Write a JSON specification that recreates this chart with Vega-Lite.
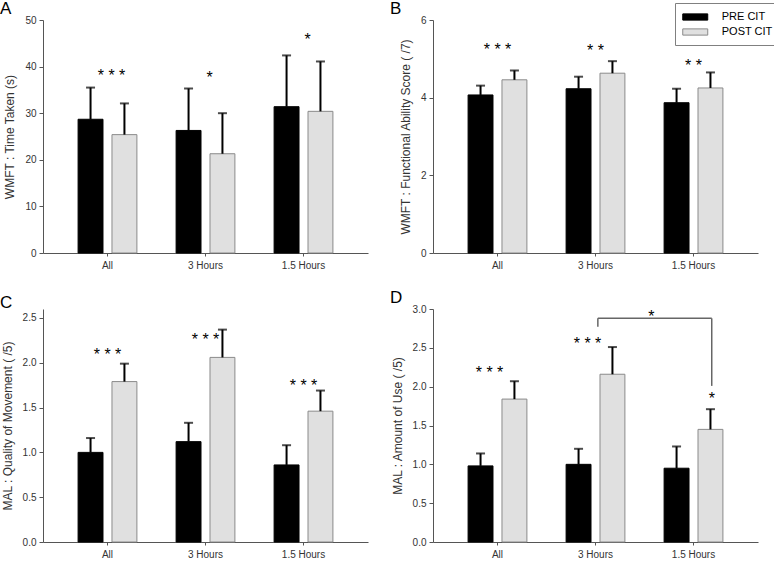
{
  "$schema": "https://vega.github.io/schema/vega-lite/v6.json",
  "padding": {"left": 0, "top": 0, "right": 0, "bottom": 0},
  "background": "#ffffff",
  "datasets": {
    "bars": [
      {"panel": "A", "cat": "All", "group": "PRE CIT", "mean": 28.7, "upper": 35.5},
      {"panel": "A", "cat": "All", "group": "POST CIT", "mean": 25.4, "upper": 32.1},
      {"panel": "A", "cat": "3 Hours", "group": "PRE CIT", "mean": 26.3, "upper": 35.3},
      {"panel": "A", "cat": "3 Hours", "group": "POST CIT", "mean": 21.3, "upper": 30.0},
      {"panel": "A", "cat": "1.5 Hours", "group": "PRE CIT", "mean": 31.4, "upper": 42.4},
      {"panel": "A", "cat": "1.5 Hours", "group": "POST CIT", "mean": 30.4, "upper": 41.1},
      {"panel": "B", "cat": "All", "group": "PRE CIT", "mean": 4.07, "upper": 4.31},
      {"panel": "B", "cat": "All", "group": "POST CIT", "mean": 4.46, "upper": 4.70},
      {"panel": "B", "cat": "3 Hours", "group": "PRE CIT", "mean": 4.23, "upper": 4.54},
      {"panel": "B", "cat": "3 Hours", "group": "POST CIT", "mean": 4.63, "upper": 4.94},
      {"panel": "B", "cat": "1.5 Hours", "group": "PRE CIT", "mean": 3.87, "upper": 4.23},
      {"panel": "B", "cat": "1.5 Hours", "group": "POST CIT", "mean": 4.25, "upper": 4.65},
      {"panel": "C", "cat": "All", "group": "PRE CIT", "mean": 1.00, "upper": 1.16},
      {"panel": "C", "cat": "All", "group": "POST CIT", "mean": 1.79, "upper": 1.99},
      {"panel": "C", "cat": "3 Hours", "group": "PRE CIT", "mean": 1.12, "upper": 1.33},
      {"panel": "C", "cat": "3 Hours", "group": "POST CIT", "mean": 2.06, "upper": 2.37},
      {"panel": "C", "cat": "1.5 Hours", "group": "PRE CIT", "mean": 0.86, "upper": 1.08},
      {"panel": "C", "cat": "1.5 Hours", "group": "POST CIT", "mean": 1.46, "upper": 1.69},
      {"panel": "D", "cat": "All", "group": "PRE CIT", "mean": 0.98, "upper": 1.14},
      {"panel": "D", "cat": "All", "group": "POST CIT", "mean": 1.84, "upper": 2.07},
      {"panel": "D", "cat": "3 Hours", "group": "PRE CIT", "mean": 1.00, "upper": 1.20},
      {"panel": "D", "cat": "3 Hours", "group": "POST CIT", "mean": 2.16, "upper": 2.51},
      {"panel": "D", "cat": "1.5 Hours", "group": "PRE CIT", "mean": 0.95, "upper": 1.23},
      {"panel": "D", "cat": "1.5 Hours", "group": "POST CIT", "mean": 1.45, "upper": 1.71}
    ],
    "stars": [
      {"panel": "A", "cat": "All", "y": 38.6, "label": "* * *"},
      {"panel": "A", "cat": "3 Hours", "y": 38.2, "label": "*"},
      {"panel": "A", "cat": "1.5 Hours", "y": 46.3, "label": "*"},
      {"panel": "B", "cat": "All", "y": 5.31, "label": "* * *"},
      {"panel": "B", "cat": "3 Hours", "y": 5.27, "label": "* *"},
      {"panel": "B", "cat": "1.5 Hours", "y": 4.88, "label": "* *"},
      {"panel": "C", "cat": "All", "y": 2.12, "label": "* * *"},
      {"panel": "C", "cat": "3 Hours", "y": 2.29, "label": "* * *"},
      {"panel": "C", "cat": "1.5 Hours", "y": 1.77, "label": "* * *"},
      {"panel": "D", "cat": "All", "y": 2.22, "label": "* * *"},
      {"panel": "D", "cat": "3 Hours", "y": 2.59, "label": "* * *"}
    ]
  },
  "concat": [
    {
      "title": {"text": "A"},
      "width": 325, "height": 233,
      "data": {"name": "bars"},
      "transform": [{"filter": "datum.panel === 'A'"}],
      "encoding": {
        "x": {"field": "cat", "type": "nominal", "title": null, "sort": ["All", "3 Hours", "1.5 Hours"], "scale": {"domain": ["All", "3 Hours", "1.5 Hours"], "paddingInner": 0.4, "paddingOuter": 0.358}, "axis": {"labelAngle": 0, "tickSize": 3, "labelPadding": 4}}
      },
      "layer": [
        {
          "mark": {"type": "bar", "strokeWidth": 1},
          "encoding": {
            "xOffset": {"field": "group", "type": "nominal", "sort": ["PRE CIT", "POST CIT"], "scale": {"paddingInner": 0.265, "paddingOuter": 0}},
            "y": {"field": "mean", "type": "quantitative", "scale": {"domain": [0, 50]}, "axis": {"values": [0, 10, 20, 30, 40, 50], "title": "WMFT : Time Taken (s)"}},
            "fill": {"field": "group", "type": "nominal", "scale": {"domain": ["PRE CIT", "POST CIT"], "range": ["#000000", "#e0e0e0"]}, "legend": {"title": null, "orient": "none", "legendX": 632, "legendY": -17}},
            "stroke": {"field": "group", "type": "nominal", "scale": {"domain": ["PRE CIT", "POST CIT"], "range": ["#000000", "#8a8a8a"]}, "legend": {"title": null, "orient": "none", "legendX": 632, "legendY": -17}}
          }
        },
        {
          "mark": {"type": "rule", "color": "#000000", "strokeWidth": 2},
          "encoding": {
            "xOffset": {"field": "group", "type": "nominal", "sort": ["PRE CIT", "POST CIT"]},
            "y": {"field": "mean", "type": "quantitative"},
            "y2": {"field": "upper"}
          }
        },
        {
          "mark": {"type": "tick", "color": "#000000", "thickness": 2, "size": 9},
          "encoding": {
            "xOffset": {"field": "group", "type": "nominal", "sort": ["PRE CIT", "POST CIT"]},
            "y": {"field": "upper", "type": "quantitative"}
          }
        },
        {
          "data": {"name": "stars"},
          "transform": [{"filter": "datum.panel === 'A'"}],
          "mark": {"type": "text", "fontSize": 16, "dy": 3, "dx": 4, "color": "#000000"},
          "encoding": {
            "y": {"field": "y", "type": "quantitative"},
            "text": {"field": "label"}
          }
        }
      ]
    },
    {
      "title": {"text": "B"},
      "width": 325, "height": 233,
      "data": {"name": "bars"},
      "transform": [{"filter": "datum.panel === 'B'"}],
      "encoding": {
        "x": {"field": "cat", "type": "nominal", "title": null, "sort": ["All", "3 Hours", "1.5 Hours"], "scale": {"domain": ["All", "3 Hours", "1.5 Hours"], "paddingInner": 0.4, "paddingOuter": 0.358}, "axis": {"labelAngle": 0, "tickSize": 3, "labelPadding": 4}}
      },
      "layer": [
        {
          "mark": {"type": "bar", "strokeWidth": 1},
          "encoding": {
            "xOffset": {"field": "group", "type": "nominal", "sort": ["PRE CIT", "POST CIT"], "scale": {"paddingInner": 0.265, "paddingOuter": 0}},
            "y": {"field": "mean", "type": "quantitative", "scale": {"domain": [0, 6]}, "axis": {"values": [0, 1, 2, 3, 4, 5, 6], "title": "WMFT : Functional Ability Score ( /7)"}},
            "fill": {"field": "group", "type": "nominal", "scale": {"domain": ["PRE CIT", "POST CIT"], "range": ["#000000", "#e0e0e0"]}, "legend": {"title": null, "orient": "none", "legendX": 632, "legendY": -17}},
            "stroke": {"field": "group", "type": "nominal", "scale": {"domain": ["PRE CIT", "POST CIT"], "range": ["#000000", "#8a8a8a"]}, "legend": {"title": null, "orient": "none", "legendX": 632, "legendY": -17}}
          }
        },
        {
          "mark": {"type": "rule", "color": "#000000", "strokeWidth": 2},
          "encoding": {
            "xOffset": {"field": "group", "type": "nominal", "sort": ["PRE CIT", "POST CIT"]},
            "y": {"field": "mean", "type": "quantitative"},
            "y2": {"field": "upper"}
          }
        },
        {
          "mark": {"type": "tick", "color": "#000000", "thickness": 2, "size": 9},
          "encoding": {
            "xOffset": {"field": "group", "type": "nominal", "sort": ["PRE CIT", "POST CIT"]},
            "y": {"field": "upper", "type": "quantitative"}
          }
        },
        {
          "data": {"name": "stars"},
          "transform": [{"filter": "datum.panel === 'B'"}],
          "mark": {"type": "text", "fontSize": 16, "dy": 3, "color": "#000000"},
          "encoding": {
            "y": {"field": "y", "type": "quantitative"},
            "text": {"field": "label"}
          }
        }
      ]
    },
    {
      "title": {"text": "C"},
      "width": 325, "height": 233,
      "data": {"name": "bars"},
      "transform": [{"filter": "datum.panel === 'C'"}],
      "encoding": {
        "x": {"field": "cat", "type": "nominal", "title": null, "sort": ["All", "3 Hours", "1.5 Hours"], "scale": {"domain": ["All", "3 Hours", "1.5 Hours"], "paddingInner": 0.4, "paddingOuter": 0.358}, "axis": {"labelAngle": 0, "tickSize": 3, "labelPadding": 4}}
      },
      "layer": [
        {
          "mark": {"type": "bar", "strokeWidth": 1},
          "encoding": {
            "xOffset": {"field": "group", "type": "nominal", "sort": ["PRE CIT", "POST CIT"], "scale": {"paddingInner": 0.265, "paddingOuter": 0}},
            "y": {"field": "mean", "type": "quantitative", "scale": {"domain": [0, 2.5]}, "axis": {"values": [0, 0.5, 1, 1.5, 2, 2.5], "format": ".1f", "title": "MAL : Quality of Movement ( /5)"}},
            "fill": {"field": "group", "type": "nominal", "scale": {"domain": ["PRE CIT", "POST CIT"], "range": ["#000000", "#e0e0e0"]}, "legend": {"title": null, "orient": "none", "legendX": 632, "legendY": -17}},
            "stroke": {"field": "group", "type": "nominal", "scale": {"domain": ["PRE CIT", "POST CIT"], "range": ["#000000", "#8a8a8a"]}, "legend": {"title": null, "orient": "none", "legendX": 632, "legendY": -17}}
          }
        },
        {
          "mark": {"type": "rule", "color": "#000000", "strokeWidth": 2},
          "encoding": {
            "xOffset": {"field": "group", "type": "nominal", "sort": ["PRE CIT", "POST CIT"]},
            "y": {"field": "mean", "type": "quantitative"},
            "y2": {"field": "upper"}
          }
        },
        {
          "mark": {"type": "tick", "color": "#000000", "thickness": 2, "size": 9},
          "encoding": {
            "xOffset": {"field": "group", "type": "nominal", "sort": ["PRE CIT", "POST CIT"]},
            "y": {"field": "upper", "type": "quantitative"}
          }
        },
        {
          "data": {"name": "stars"},
          "transform": [{"filter": "datum.panel === 'C'"}],
          "mark": {"type": "text", "fontSize": 16, "dy": 3, "color": "#000000"},
          "encoding": {
            "y": {"field": "y", "type": "quantitative"},
            "text": {"field": "label"}
          }
        }
      ]
    },
    {
      "title": {"text": "D"},
      "width": 325, "height": 233,
      "data": {"name": "bars"},
      "transform": [{"filter": "datum.panel === 'D'"}],
      "encoding": {
        "x": {"field": "cat", "type": "nominal", "title": null, "sort": ["All", "3 Hours", "1.5 Hours"], "scale": {"domain": ["All", "3 Hours", "1.5 Hours"], "paddingInner": 0.4, "paddingOuter": 0.358}, "axis": {"labelAngle": 0, "tickSize": 3, "labelPadding": 4}}
      },
      "layer": [
        {
          "mark": {"type": "bar", "strokeWidth": 1},
          "encoding": {
            "xOffset": {"field": "group", "type": "nominal", "sort": ["PRE CIT", "POST CIT"], "scale": {"paddingInner": 0.265, "paddingOuter": 0}},
            "y": {"field": "mean", "type": "quantitative", "scale": {"domain": [0, 3]}, "axis": {"values": [0, 0.5, 1, 1.5, 2, 2.5, 3], "format": ".1f", "title": "MAL : Amount of Use ( /5)"}},
            "fill": {"field": "group", "type": "nominal", "scale": {"domain": ["PRE CIT", "POST CIT"], "range": ["#000000", "#e0e0e0"]}, "legend": {"title": null, "orient": "none", "legendX": 632, "legendY": -17}},
            "stroke": {"field": "group", "type": "nominal", "scale": {"domain": ["PRE CIT", "POST CIT"], "range": ["#000000", "#8a8a8a"]}, "legend": {"title": null, "orient": "none", "legendX": 632, "legendY": -17}}
          }
        },
        {
          "mark": {"type": "rule", "color": "#000000", "strokeWidth": 2},
          "encoding": {
            "xOffset": {"field": "group", "type": "nominal", "sort": ["PRE CIT", "POST CIT"]},
            "y": {"field": "mean", "type": "quantitative", "axis": {"values": [0, 0.5, 1, 1.5, 2, 2.5, 3], "format": ".1f", "title": "MAL : Amount of Use ( /5)"}},
            "y2": {"field": "upper"}
          }
        },
        {
          "mark": {"type": "tick", "color": "#000000", "thickness": 2, "size": 9},
          "encoding": {
            "xOffset": {"field": "group", "type": "nominal", "sort": ["PRE CIT", "POST CIT"]},
            "y": {"field": "upper", "type": "quantitative", "axis": {"values": [0, 0.5, 1, 1.5, 2, 2.5, 3], "format": ".1f", "title": "MAL : Amount of Use ( /5)"}}
          }
        },
        {
          "data": {"name": "stars"},
          "transform": [{"filter": "datum.panel === 'D'"}],
          "mark": {"type": "text", "fontSize": 16, "dy": 3, "dx": -8, "color": "#000000"},
          "encoding": {
            "y": {"field": "y", "type": "quantitative", "axis": {"values": [0, 0.5, 1, 1.5, 2, 2.5, 3], "format": ".1f", "title": "MAL : Amount of Use ( /5)"}},
            "text": {"field": "label"}
          }
        },
        {
          "data": {"values": [{"cat": "1.5 Hours", "y": 1.88, "label": "*"}]},
          "mark": {"type": "text", "fontSize": 16, "dy": 3, "color": "#000000"},
          "encoding": {
            "x": {"field": "cat", "type": "nominal", "title": null, "sort": ["All", "3 Hours", "1.5 Hours"], "bandPosition": 0.81},
            "y": {"field": "y", "type": "quantitative", "axis": {"values": [0, 0.5, 1, 1.5, 2, 2.5, 3], "format": ".1f", "title": "MAL : Amount of Use ( /5)"}},
            "text": {"field": "label"}
          }
        },
        {
          "data": {"values": [{"cat": "3 Hours", "y": 2.94, "label": "*"}]},
          "mark": {"type": "text", "fontSize": 16, "dy": 3, "color": "#000000"},
          "encoding": {
            "x": {"field": "cat", "type": "nominal", "title": null, "sort": ["All", "3 Hours", "1.5 Hours"], "bandPosition": 1.45},
            "y": {"field": "y", "type": "quantitative", "axis": {"values": [0, 0.5, 1, 1.5, 2, 2.5, 3], "format": ".1f", "title": "MAL : Amount of Use ( /5)"}},
            "text": {"field": "label"}
          }
        },
        {
          "data": {"values": [{"cat": "3 Hours", "lo": 2.77, "hi": 2.88}]},
          "mark": {"type": "rule", "color": "#666666", "strokeWidth": 1.5},
          "encoding": {
            "x": {"field": "cat", "type": "nominal", "title": null, "sort": ["All", "3 Hours", "1.5 Hours"], "bandPosition": 0.54},
            "y": {"field": "lo", "type": "quantitative", "axis": {"values": [0, 0.5, 1, 1.5, 2, 2.5, 3], "format": ".1f", "title": "MAL : Amount of Use ( /5)"}},
            "y2": {"field": "hi"}
          }
        },
        {
          "data": {"values": [{"cat": "1.5 Hours", "lo": 2.01, "hi": 2.88}]},
          "mark": {"type": "rule", "color": "#666666", "strokeWidth": 1.5},
          "encoding": {
            "x": {"field": "cat", "type": "nominal", "title": null, "sort": ["All", "3 Hours", "1.5 Hours"], "bandPosition": 0.81},
            "y": {"field": "lo", "type": "quantitative", "axis": {"values": [0, 0.5, 1, 1.5, 2, 2.5, 3], "format": ".1f", "title": "MAL : Amount of Use ( /5)"}},
            "y2": {"field": "hi"}
          }
        },
        {
          "data": {"values": [{"cat": "3 Hours", "cat_end": "1.5 Hours", "y": 2.88}]},
          "mark": {"type": "rule", "color": "#666666", "strokeWidth": 1.5},
          "encoding": {
            "x": {"field": "cat", "type": "nominal", "title": null, "sort": ["All", "3 Hours", "1.5 Hours"], "bandPosition": 0.54},
            "x2": {"field": "cat_end", "bandPosition": 0.81},
            "y": {"field": "y", "type": "quantitative", "axis": {"values": [0, 0.5, 1, 1.5, 2, 2.5, 3], "format": ".1f", "title": "MAL : Amount of Use ( /5)"}}
          }
        }
      ]
    }
  ],
  "columns": 2,
  "spacing": {"row": 56, "column": 65},
  "bounds": "flush",
  "config": {
    "view": {"stroke": null},
    "font": "Liberation Sans",
    "axis": {"domainColor": "#555555", "tickColor": "#555555", "labelColor": "#333333", "titleColor": "#333333", "labelFontSize": 10, "titleFontSize": 12, "titleFontWeight": "normal", "grid": false, "labelFont": "Liberation Sans", "titleFont": "Liberation Sans"},
    "axisY": {"tickSize": 4, "labelPadding": 3, "titlePadding": 8},
    "title": {"fontSize": 17, "fontWeight": "normal", "anchor": "start", "frame": "group", "dx": -43, "offset": -3, "color": "#000000", "font": "Liberation Sans"},
    "legend": {"symbolType": "M-2,-0.5H2V0.5H-2Z", "symbolSize": 156, "symbolOffset": 6.25, "symbolStrokeWidth": 1, "labelFontSize": 11, "labelFont": "Liberation Sans", "labelColor": "#000000", "labelOffset": 19.5, "padding": 7, "rowPadding": 2, "strokeColor": "#808080", "fillColor": "#ffffff"}
  }
}
